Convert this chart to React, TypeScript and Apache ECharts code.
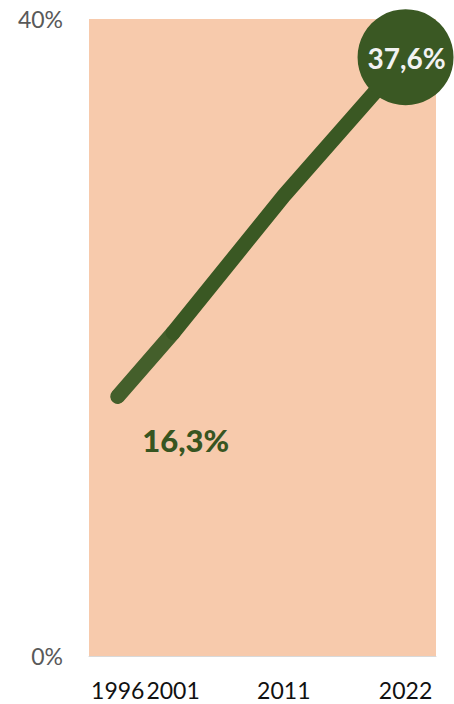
import React, { useEffect, useRef } from "react";
import * as echarts from "echarts";

const years = [1996, 2001, 2011, 2022];
const shares = [16.3, 20.3, 28.9, 37.6];
const yearTicksA = [1996, 2011, 2022];
const yearTicksB = [2001];
const startLabel = "16,3%";
const endLabel = "37,6%";

export default function App() {
  const ref = useRef<HTMLDivElement>(null);
  useEffect(() => {
    document.body.style.margin = "0";
    if (!ref.current) return;
    const chart = echarts.init(ref.current, undefined, { renderer: "svg" });
    const firstSeg = years.slice(0, 2).map((y, i) => [y, shares[i]]);
    const restSeg = years.slice(1).map((y, i) => [y, shares[i + 1]]);
    const last = restSeg.length - 1;
    const xLabelBase = {
      formatter: (v: number) => String(v),
      color: "#111111",
      fontSize: 23,
      fontFamily: "Lato",
      margin: 22,
      hideOverlap: false,
    };
    chart.setOption({
      animation: false,
      grid: {
        left: 89,
        right: 18,
        top: 19,
        bottom: 48,
        show: true,
        backgroundColor: "#f7caac",
        borderWidth: 0,
      },
      xAxis: [
        {
          type: "value",
          min: 1993.4,
          max: 2024.75,
          position: "bottom",
          splitLine: { show: false },
          axisTick: { show: false },
          axisLine: { show: true, lineStyle: { color: "#d9d9d9", width: 1 } },
          axisLabel: { ...xLabelBase, customValues: yearTicksA },
        },
        {
          type: "value",
          min: 1993.4,
          max: 2024.75,
          position: "bottom",
          offset: 0,
          splitLine: { show: false },
          axisTick: { show: false },
          axisLine: { show: false },
          axisLabel: { ...xLabelBase, customValues: yearTicksB },
        },
      ],
      yAxis: {
        type: "value",
        min: 0,
        max: 40,
        interval: 40,
        splitLine: { show: false },
        axisLine: { show: false },
        axisTick: { show: false },
        axisLabel: {
          formatter: "{value}%",
          color: "#595959",
          fontSize: 23,
          fontFamily: "Lato",
          margin: 26,
        },
      },
      series: [
        {
          type: "line",
          xAxisIndex: 0,
          data: firstSeg.map((d, i) =>
            i === 0
              ? {
                  value: d,
                  symbol: "circle",
                  symbolSize: 14,
                  itemStyle: { color: "#445f2b" },
                  label: {
                    show: true,
                    position: "inside",
                    offset: [68, 44],
                    formatter: startLabel,
                    color: "#375521",
                    fontSize: 31,
                    fontWeight: 900,
                    fontFamily: "Lato",
                  },
                }
              : { value: d, symbol: "none" }
          ),
          lineStyle: { color: "#445f2b", width: 15, cap: "round" },
          symbol: "none",
          z: 2,
        },
        {
          type: "line",
          xAxisIndex: 0,
          data: restSeg.map((d, i) =>
            i === last
              ? {
                  value: d,
                  symbol: "circle",
                  symbolSize: 96,
                  itemStyle: { color: "#3a5823" },
                  label: {
                    show: true,
                    position: "inside",
                    offset: [1, 1],
                    formatter: endLabel,
                    color: "#f2f2f2",
                    fontSize: 28,
                    fontWeight: "bold",
                    fontFamily: "Lato",
                  },
                }
              : { value: d, symbol: "none" }
          ),
          lineStyle: { color: "#3a5823", width: 15, cap: "round" },
          symbol: "none",
          z: 3,
        },
      ],
    });
    return () => chart.dispose();
  }, []);
  return <div ref={ref} style={{ width: 454, height: 704 }} />;
}
